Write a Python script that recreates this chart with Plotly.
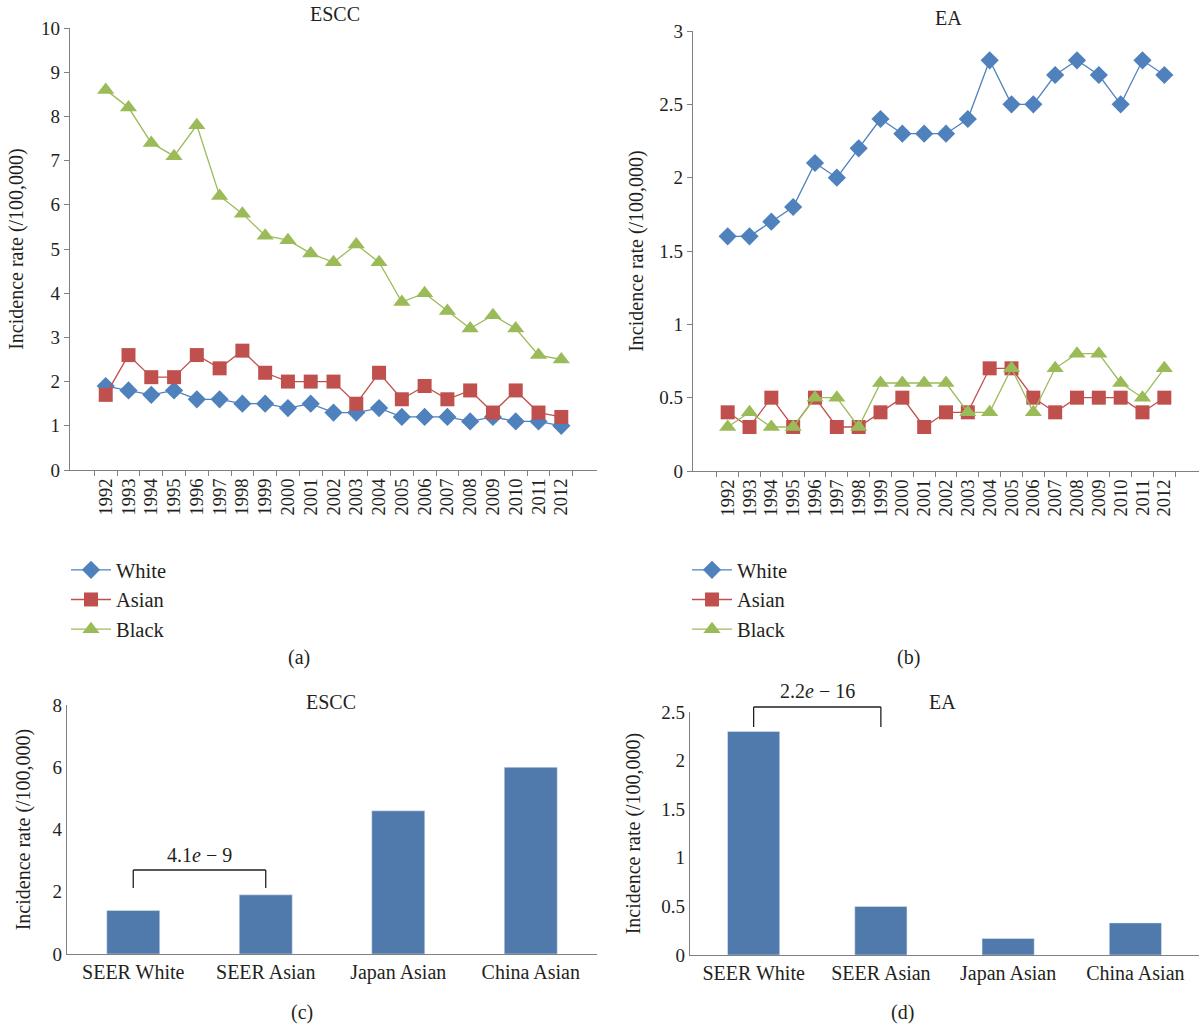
import plotly.graph_objects as go

years = [str(y) for y in range(1992, 2013)]

escc_white = [1.9, 1.8, 1.7, 1.8, 1.6, 1.6, 1.5, 1.5, 1.4, 1.5, 1.3, 1.3, 1.4, 1.2, 1.2, 1.2, 1.1, 1.2, 1.1, 1.1, 1.0]
escc_asian = [1.7, 2.6, 2.1, 2.1, 2.6, 2.3, 2.7, 2.2, 2.0, 2.0, 2.0, 1.5, 2.2, 1.6, 1.9, 1.6, 1.8, 1.3, 1.8, 1.3, 1.2]
escc_black = [8.6, 8.2, 7.4, 7.1, 7.8, 6.2, 5.8, 5.3, 5.2, 4.9, 4.7, 5.1, 4.7, 3.8, 4.0, 3.6, 3.2, 3.5, 3.2, 2.6, 2.5]

ea_white = [1.6, 1.6, 1.7, 1.8, 2.1, 2.0, 2.2, 2.4, 2.3, 2.3, 2.3, 2.4, 2.8, 2.5, 2.5, 2.7, 2.8, 2.7, 2.5, 2.8, 2.7]
ea_asian = [0.4, 0.3, 0.5, 0.3, 0.5, 0.3, 0.3, 0.4, 0.5, 0.3, 0.4, 0.4, 0.7, 0.7, 0.5, 0.4, 0.5, 0.5, 0.5, 0.4, 0.5]
ea_black = [0.3, 0.4, 0.3, 0.3, 0.5, 0.5, 0.3, 0.6, 0.6, 0.6, 0.6, 0.4, 0.4, 0.7, 0.4, 0.7, 0.8, 0.8, 0.6, 0.5, 0.7]

groups = ["SEER White", "SEER Asian", "Japan Asian", "China Asian"]
escc_bars = [1.4, 1.9, 4.6, 6.0]
ea_bars = [2.3, 0.5, 0.17, 0.33]

pval_escc = "4.1<i>e</i> − 9"
pval_ea = "2.2<i>e</i> − 16"

W, H = 1199, 1027
FONT = "Liberation Serif"
TXT = "#231f20"
AX = "#808080"
BLUE, RED, GREEN = "#4F81BD", "#C0504D", "#9BBB59"
BAR = "#5079AC"


def px(x):
    return x / W


def py(y):
    return 1 - y / H


fig = go.Figure()

series = [("White", BLUE, "diamond", 14), ("Asian", RED, "square", 14), ("Black", GREEN, "triangle-up", 15)]

for (name, col, sym, sz), vals in zip(series, [escc_white, escc_asian, escc_black]):
    fig.add_trace(go.Scatter(x=years, y=vals, name=name, mode="lines+markers",
                             line=dict(color=col, width=1.3),
                             marker=dict(symbol=sym, size=sz, color=col),
                             xaxis="x", yaxis="y", legend="legend"))
for (name, col, sym, sz), vals in zip(series, [ea_white, ea_asian, ea_black]):
    fig.add_trace(go.Scatter(x=years, y=vals, name=name, mode="lines+markers",
                             line=dict(color=col, width=1.3),
                             marker=dict(symbol=sym, size=sz, color=col),
                             xaxis="x2", yaxis="y2", legend="legend2"))

fig.add_trace(go.Bar(x=groups, y=escc_bars, marker=dict(color=BAR), width=0.4,
                     showlegend=False, xaxis="x3", yaxis="y3"))
fig.add_trace(go.Bar(x=groups, y=ea_bars, marker=dict(color=BAR), width=0.41,
                     showlegend=False, xaxis="x4", yaxis="y4"))

tickfont = dict(family=FONT, size=19, color=TXT)
cattick = dict(family=FONT, size=20, color=TXT)
titlefont = dict(family=FONT, size=20, color=TXT)
yeartick = dict(family=FONT, size=18.5, color=TXT)

common_x = dict(type="category", showline=True, linecolor=AX, linewidth=1.2,
                showgrid=False, zeroline=False, fixedrange=True, automargin=False)
common_y = dict(showline=True, linecolor=AX, linewidth=1.2, showgrid=False,
                zeroline=False, tickfont=tickfont, ticks="outside", ticklen=5,
                tickcolor=AX, automargin=False, fixedrange=True)
year_x = dict(ticks="outside", tickson="boundaries", ticklen=5, tickcolor=AX,
              tickangle=-90, tickfont=yeartick, tickmode="array",
              tickvals=years, ticktext=years)

YT = "Incidence rate (/100,000)"
legfont = dict(family=FONT, size=20.5, color=TXT)

fig.update_layout(
    width=W, height=H,
    margin=dict(l=0, r=0, t=0, b=0, pad=0, autoexpand=False),
    paper_bgcolor="white", plot_bgcolor="white",
    font=dict(family=FONT, color=TXT),
    xaxis=dict(common_x, **year_x, domain=[px(70), px(597)], anchor="y"),
    yaxis=dict(common_y, domain=[py(470), py(28)], anchor="x", range=[0, 10], dtick=1,
               title=dict(text=YT, font=titlefont, standoff=12)),
    xaxis2=dict(common_x, **year_x, domain=[px(693), px(1199)], anchor="y2"),
    yaxis2=dict(common_y, domain=[py(471), py(31)], anchor="x2", range=[0, 3], dtick=0.5,
                title=dict(text=YT, font=titlefont, standoff=10)),
    xaxis3=dict(common_x, domain=[px(67), px(597)], anchor="y3", ticks="", tickfont=cattick),
    yaxis3=dict(common_y, domain=[py(954), py(705)], anchor="x3", range=[0, 8], dtick=2,
                ticks="", title=dict(text=YT, font=titlefont, standoff=16)),
    xaxis4=dict(common_x, domain=[px(690), px(1199)], anchor="y4", ticks="", tickfont=cattick),
    yaxis4=dict(common_y, domain=[py(955), py(712)], anchor="x4", range=[0, 2.5], dtick=0.5,
                ticks="", title=dict(text=YT, font=titlefont, standoff=15)),
    legend=dict(x=px(66), y=py(550), xanchor="left", yanchor="top", font=legfont,
                tracegroupgap=0, itemwidth=40, bgcolor="rgba(0,0,0,0)"),
    legend2=dict(x=px(687), y=py(550), xanchor="left", yanchor="top", font=legfont,
                 tracegroupgap=0, itemwidth=40, bgcolor="rgba(0,0,0,0)"),
    bargap=0.6,
)

annos = [
    ("ESCC", 335, 14), ("EA", 948, 18), ("(a)", 299, 657), ("(b)", 908, 657),
    ("ESCC", 331, 702), ("EA", 942, 702), ("(c)", 302, 1012), ("(d)", 902, 1012),
]
for text, x, y in annos:
    fig.add_annotation(text=text, x=px(x), y=py(y), xref="paper", yref="paper",
                       xanchor="center", yanchor="middle",
                       showarrow=False, font=dict(family=FONT, size=20, color=TXT))


def bracket(xref, top, bottom, label, label_y):
    for (xa, ya, xb, yb) in [(0, bottom, 0, top), (0, top, 1, top), (1, top, 1, bottom)]:
        fig.add_shape(type="line", xref=xref, yref="paper", x0=xa, x1=xb,
                      y0=ya, y1=yb, line=dict(color=TXT, width=1.3))
    fig.add_annotation(text=label, xref=xref, yref="paper", x=0.5, y=label_y,
                       xanchor="center", yanchor="middle",
                       showarrow=False, font=dict(family=FONT, size=20, color=TXT))


bracket("x3", py(870), py(888), pval_escc, py(855))
bracket("x4", py(707), py(727), pval_ea, py(691))

fig.write_html("out.html", config={"displayModeBar": False},
               post_script="document.body.style.margin='0';")
